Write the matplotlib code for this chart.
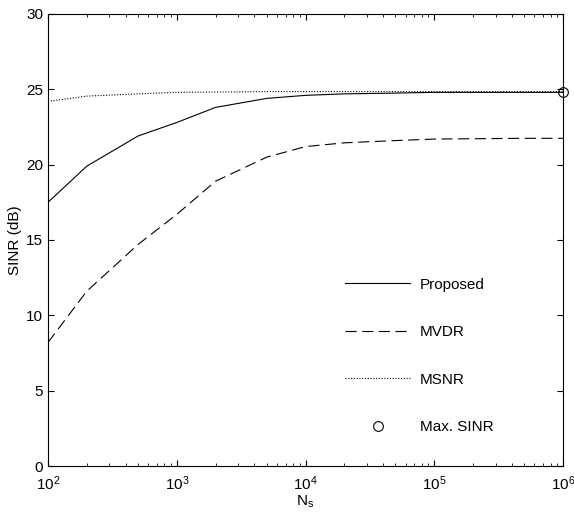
import matplotlib.pyplot as plt
import numpy as np

plt.rcParams["font.family"] = ["Liberation Sans", "DejaVu Sans"]

# snapshot counts
ns = [1e2, 2e2, 5e2, 1e3, 2e3, 5e3, 1e4, 2e4, 5e4, 1e5, 2e5, 5e5, 1e6]

# SINR values (dB)
proposed = [17.5, 19.9, 21.9, 22.8, 23.8, 24.4, 24.6, 24.7, 24.75, 24.8, 24.8, 24.8, 24.8]
mvdr = [8.2, 11.6, 14.7, 16.7, 18.9, 20.5, 21.2, 21.45, 21.6, 21.7, 21.72, 21.75, 21.75]
msnr = [24.2, 24.55, 24.7, 24.8, 24.82, 24.85, 24.85, 24.85, 24.85, 24.85, 24.85, 24.85, 24.85]
max_ns = [1e6]
max_sinr = [24.8]

fs = 11

fig = plt.figure(figsize=(5.74, 5.19), dpi=100)
ax = fig.add_axes([48 / 574, 1 - 466 / 519, 515 / 574, 452 / 519])

ax.plot(ns, proposed, color="black", lw=0.8, label="Proposed")
ax.plot(ns, mvdr, color="black", lw=0.8, dashes=(10, 5), label="MVDR")
ax.plot(ns, msnr, color="black", lw=0.8, dashes=(1, 1.5), label="MSNR")
ax.plot(max_ns, max_sinr, "o", mfc="none", mec="black", ms=7, mew=0.8,
        linestyle="none", label="Max. SINR", clip_on=False)

ax.set_xscale("log")
ax.set_xlim(1e2, 1e6)
ax.set_ylim(0, 30)
ax.set_yticks(np.arange(0, 31, 5))

ax.tick_params(which="both", direction="in", top=True, right=True, labelsize=fs)
ax.tick_params(which="major", length=4)
ax.tick_params(which="minor", length=2)
ax.tick_params(axis="x", pad=6)
for s in ax.spines.values():
    s.set_linewidth(0.8)

ax.set_xlabel("N$_\\mathregular{s}$", fontsize=fs, labelpad=0)
ax.set_ylabel("SINR (dB)", fontsize=fs, labelpad=3)

ax.legend(loc="upper left", bbox_to_anchor=(0.577, 0.417), frameon=False,
          borderpad=0, borderaxespad=0, handlelength=4.25, handletextpad=0.65,
          labelspacing=2.2, fontsize=fs)

fig.savefig("out.png", dpi=100)
